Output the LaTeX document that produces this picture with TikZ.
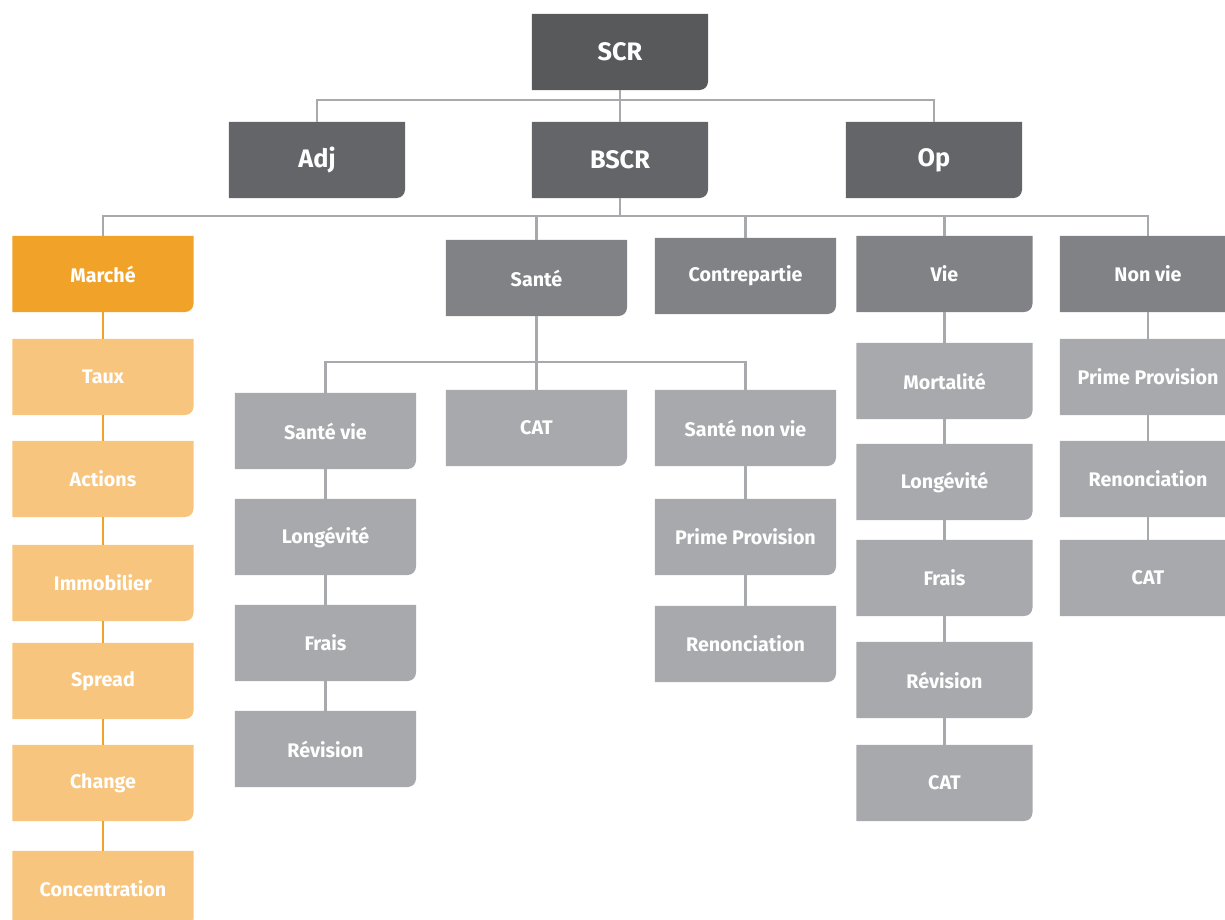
\documentclass[tikz,border=0pt]{standalone}
\usepackage{fontspec}
\setmainfont{Fira Sans}
\definecolor{scrgris}{HTML}{58595B}
\definecolor{grisdeux}{HTML}{646568}
\definecolor{gristrois}{HTML}{808285}
\definecolor{grisquatre}{HTML}{A7A9AC}
\definecolor{trait}{HTML}{A7A9AC}
\definecolor{orfonce}{HTML}{F0A328}
\definecolor{orclair}{HTML}{F7C57D}
\tikzset{
    bloc/.style={minimum width=4.4cm, minimum height=1.9cm, inner sep=0pt,
        text=white, font=\fontsize{14}{16}\selectfont\bfseries,
        path picture={\fill [#1] (path picture bounding box.north west)
            -- (path picture bounding box.north east)
            [rounded corners=6pt] -- (path picture bounding box.south east)
            [sharp corners] -- (path picture bounding box.south west) -- cycle;}},
    haut/.style={bloc=#1, font=\fontsize{18}{20}\selectfont\bfseries},
    large/.style={minimum width=4.525cm},
    lien/.style={draw=trait, line width=1.5pt},
    lienor/.style={draw=orfonce, line width=1.5pt}
}
\begin{document}
\begin{tikzpicture}[x=0.025cm, y=-0.025cm]
    \useasboundingbox (0,0) rectangle (1225,920);
    \clip (0,0) rectangle (1225,920);

    % niveaux 1 et 2
    \node [haut=scrgris] (scr) at (620,52) {SCR};
    \node [haut=grisdeux] (adj) at (317,160) {Adj};
    \node [haut=grisdeux] (bscr) at (620,160) {BSCR};
    \node [haut=grisdeux] (op) at (934,160) {Op};

    % niveau 3
    \node [bloc=orfonce, large] (marche) at (103,274) {Marché};
    \node [bloc=gristrois, large] (sante) at (536.5,278) {Santé};
    \node [bloc=gristrois, large] (contre) at (745.5,276) {Contrepartie};
    \node [bloc=gristrois] (vie) at (944.5,274) {Vie};
    \node [bloc=gristrois] (nonvie) at (1148,274) {Non vie};

    % marché
    \foreach \nom/\y/\txt in {m1/377/Taux, m2/479/Actions, m3/583/Immobilier,
                             m4/681/Spread, m5/783/Change, m6/889/Concentration}
        \node [bloc=orclair, large] (\nom) at (103,\y) {\txt};

    % santé
    \node [bloc=grisquatre, large] (sv) at (325.5,431) {Santé vie};
    \node [bloc=grisquatre, large] (scat) at (536.5,428) {CAT};
    \node [bloc=grisquatre, large] (snv) at (745.5,428) {Santé non vie};
    \node [bloc=grisquatre, large] (sv1) at (325.5,537) {Longévité};
    \node [bloc=grisquatre, large] (sv2) at (325.5,643) {Frais};
    \node [bloc=grisquatre, large] (sv3) at (325.5,749) {Révision};
    \node [bloc=grisquatre, large] (snv1) at (745.5,537) {Prime Provision};
    \node [bloc=grisquatre, large] (snv2) at (745.5,644) {Renonciation};

    % vie
    \node [bloc=grisquatre] (v1) at (944.5,381) {Mortalité};
    \node [bloc=grisquatre] (v2) at (944.5,482) {Longévité};
    \node [bloc=grisquatre] (v3) at (944.5,578) {Frais};
    \node [bloc=grisquatre] (v4) at (944.5,680) {Révision};
    \node [bloc=grisquatre] (v5) at (944.5,783) {CAT};

    % non vie
    \node [bloc=grisquatre] (nv1) at (1148,377) {Prime Provision};
    \node [bloc=grisquatre] (nv2) at (1148,479) {Renonciation};
    \node [bloc=grisquatre] (nv3) at (1148,578) {CAT};

    % liens
    \draw [lien] (scr.south) -- ++(0,10) -| (adj.north);
    \draw [lien] (scr.south) -- ++(0,10) -| (op.north);
    \draw [lien] (scr.south) -- (bscr.north);
    \foreach \n in {marche, sante, contre, vie, nonvie}
        \draw [lien] (bscr.south) -- ++(0,18) -| (\n.north);
    \foreach \n in {sv, scat, snv}
        \draw [lien] (sante.south) -- ++(0,46) -| (\n.north);
    \draw [lienor] (marche) -- (m1) -- (m2) -- (m3) -- (m4) -- (m5) -- (m6);
    \draw [lien] (sv) -- (sv1) -- (sv2) -- (sv3);
    \draw [lien] (snv) -- (snv1) -- (snv2);
    \draw [lien] (vie) -- (v1) -- (v2) -- (v3) -- (v4) -- (v5);
    \draw [lien] (nonvie) -- (nv1) -- (nv2) -- (nv3);
\end{tikzpicture}
\end{document}
